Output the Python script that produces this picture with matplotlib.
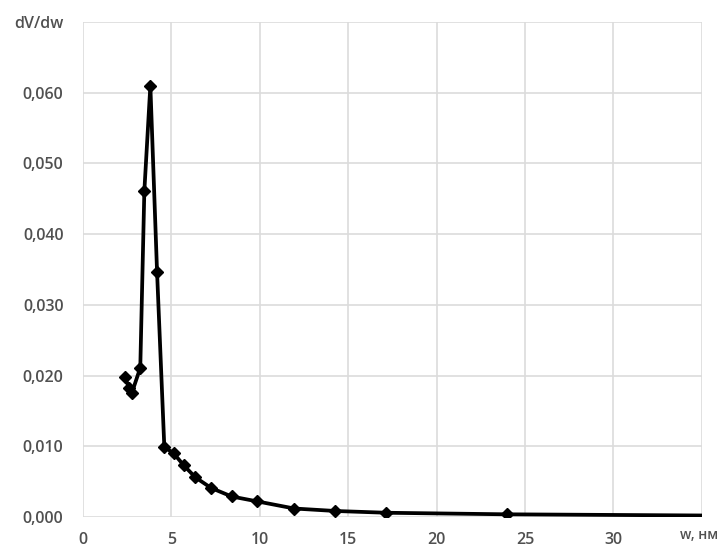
import numpy as np
import matplotlib
matplotlib.use("Agg")
import matplotlib.pyplot as plt

# pore width w (nm) and differential pore volume dV/dw
w = [2.39, 2.58, 2.77, 3.24, 3.47, 3.81, 4.19, 4.60, 5.13, 5.70, 6.36,
     7.25, 8.41, 9.87, 11.95, 14.28, 17.16, 23.98, 36.0]
dvdw = [0.0198, 0.0183, 0.0176, 0.0211, 0.0461, 0.0610, 0.0346, 0.0099,
        0.0090, 0.0073, 0.0056, 0.0041, 0.0029, 0.0022, 0.0012, 0.00085,
        0.0006, 0.00038, 0.0002]

x_ticks = [0, 5, 10, 15, 20, 25, 30, 35]
x_labels = ["0", "5", "10", "15", "20", "25", "30", ""]
y_ticks = [0.0, 0.01, 0.02, 0.03, 0.04, 0.05, 0.06, 0.07]
y_labels = ["0,000", "0,010", "0,020", "0,030", "0,040", "0,050", "0,060", "dV/dw"]

TXT = "#505050"
plt.rcParams["font.family"] = ["Open Sans", "DejaVu Sans"]

fig = plt.figure(figsize=(7.28, 5.5), dpi=100)
ax = fig.add_axes([0.114, 0.06, 0.850, 0.90])
ax.plot(w, dvdw, color="black", lw=2.7, marker="D", ms=6.5, mfc="black",
        mec="black", zorder=3)

ax.set_xlim(0, 35)
ax.set_ylim(0, 0.07)
ax.set_xticks(x_ticks, x_labels)
ax.set_yticks(y_ticks, y_labels)
ax.grid(True, color="#dcdcdc", lw=1.2)
ax.tick_params(length=0, labelsize=11.5, colors=TXT)
ax.tick_params(axis="x", pad=11)
ax.tick_params(axis="y", pad=14)
for lab in ax.get_xticklabels() + ax.get_yticklabels():
    lab.set_fontweight("semibold")
for s in ax.spines.values():
    s.set_visible(False)
ax.text(0.995, -0.037, "w, нм", transform=ax.transAxes, ha="center", va="center",
        fontsize=10, color=TXT, fontweight="semibold")

fig.savefig("out.png", dpi=100)
